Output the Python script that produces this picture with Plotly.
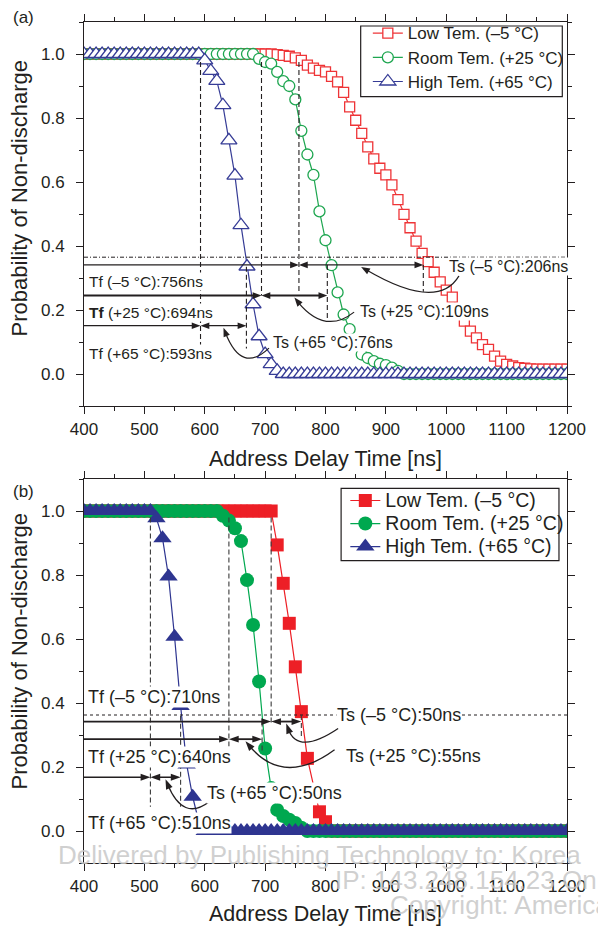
import math
import plotly.graph_objects as go

FONT = "Liberation Sans, Arial, Helvetica, sans-serif"
INK = "#231f20"

# ---------------- data: panel (a), open symbols ----------------
time_a = list(range(400, 1201, 10))

low_a = [
    1.0, 1.0, 1.0, 1.0, 1.0, 1.0, 1.0, 1.0, 1.0, 1.0,            # 400-490
    1.0, 1.0, 1.0, 1.0, 1.0, 1.0, 1.0, 1.0, 1.0, 1.0,            # 500-590
    1.0, 1.0, 1.0, 1.0, 1.0, 1.0, 1.0, 1.0, 1.0, 1.0,            # 600-690
    1.0, 1.0, 0.998, 0.996, 0.993, 0.988, 0.98, 0.965, 0.956, 0.949,   # 700-790
    0.944, 0.93, 0.913, 0.88, 0.835, 0.793, 0.752, 0.71, 0.672, 0.643,  # 800-890
    0.622, 0.591, 0.545, 0.499, 0.457, 0.415, 0.377, 0.351, 0.318, 0.288,  # 900-990
    0.262, 0.24, 0.2, 0.165, 0.134, 0.113, 0.092, 0.077, 0.056, 0.04,   # 1000-1090
    0.03, 0.025, 0.02, 0.018, 0.016, 0.015, 0.015, 0.015, 0.015, 0.015,  # 1100-1190
    0.015,                                                        # 1200
]
room_a = [
    1.0, 1.0, 1.0, 1.0, 1.0, 1.0, 1.0, 1.0, 1.0, 1.0,
    1.0, 1.0, 1.0, 1.0, 1.0, 1.0, 1.0, 1.0, 1.0, 1.0,
    1.0, 1.0, 1.0, 1.0, 1.0, 1.0, 1.0, 1.0, 1.0, 0.985,
    0.975, 0.97, 0.944, 0.915, 0.9, 0.858, 0.76, 0.686, 0.622, 0.508,
    0.418, 0.34, 0.255, 0.186, 0.14, 0.095, 0.061, 0.05, 0.04, 0.032,
    0.028, 0.02, 0.01, 0.0, 0.0, 0.0, 0.0, 0.0, 0.0, 0.0,
    0.0, 0.0, 0.0, 0.0, 0.0, 0.0, 0.0, 0.0, 0.0, 0.0,
    0.0, 0.0, 0.0, 0.0, 0.0, 0.0, 0.0, 0.0, 0.0, 0.0,
    0.0,
]
high_a = [
    1.0, 1.0, 1.0, 1.0, 1.0, 1.0, 1.0, 1.0, 1.0, 1.0,
    1.0, 1.0, 1.0, 1.0, 1.0, 1.0, 1.0, 1.0, 1.0, 1.0,
    0.98, 0.947, 0.916, 0.84, 0.73, 0.62, 0.465, 0.336, 0.218, 0.118,
    0.062, 0.031, 0.01, 0.0, 0.0, 0.0, 0.0, 0.0, 0.0, 0.0,
    0.0, 0.0, 0.0, 0.0, 0.0, 0.0, 0.0, 0.0, 0.0, 0.0,
    0.0, 0.0, 0.0, 0.0, 0.0, 0.0, 0.0, 0.0, 0.0, 0.0,
    0.0, 0.0, 0.0, 0.0, 0.0, 0.0, 0.0, 0.0, 0.0, 0.0,
    0.0, 0.0, 0.0, 0.0, 0.0, 0.0, 0.0, 0.0, 0.0, 0.0,
    0.0,
]

# ---------------- data: panel (b), filled symbols ----------------
time_b = list(range(400, 1201, 10))
time_low_b = list(range(400, 771, 10)) + list(range(790, 1201, 10))

low_b = [
    1.0, 1.0, 1.0, 1.0, 1.0, 1.0, 1.0, 1.0, 1.0, 1.0,
    1.0, 1.0, 1.0, 1.0, 1.0, 1.0, 1.0, 1.0, 1.0, 1.0,
    1.0, 1.0, 1.0, 1.0, 1.0, 1.0, 1.0, 1.0, 1.0, 1.0,
    1.0, 1.0, 0.894, 0.774, 0.649, 0.513, 0.373, 0.227,          # 700-770
    0.06, 0.029,                                                  # 790-800
    0.0, 0.0, 0.0, 0.0, 0.0, 0.0, 0.0, 0.0, 0.0, 0.0,
    0.0, 0.0, 0.0, 0.0, 0.0, 0.0, 0.0, 0.0, 0.0, 0.0,
    0.0, 0.0, 0.0, 0.0, 0.0, 0.0, 0.0, 0.0, 0.0, 0.0,
    0.0, 0.0, 0.0, 0.0, 0.0, 0.0, 0.0, 0.0, 0.0, 0.0,
]
room_b = [
    1.0, 1.0, 1.0, 1.0, 1.0, 1.0, 1.0, 1.0, 1.0, 1.0,
    1.0, 1.0, 1.0, 1.0, 1.0, 1.0, 1.0, 1.0, 1.0, 1.0,
    1.0, 1.0, 1.0, 0.985, 0.97, 0.946, 0.906, 0.784, 0.644, 0.467,
    0.258, 0.134, 0.066, 0.047, 0.035, 0.025, 0.01, 0.0, 0.0, 0.0,
    0.0, 0.0, 0.0, 0.0, 0.0, 0.0, 0.0, 0.0, 0.0, 0.0,
    0.0, 0.0, 0.0, 0.0, 0.0, 0.0, 0.0, 0.0, 0.0, 0.0,
    0.0, 0.0, 0.0, 0.0, 0.0, 0.0, 0.0, 0.0, 0.0, 0.0,
    0.0, 0.0, 0.0, 0.0, 0.0, 0.0, 0.0, 0.0, 0.0, 0.0,
    0.0,
]
high_b = [
    1.0, 1.0, 1.0, 1.0, 1.0, 1.0, 1.0, 1.0, 1.0, 1.0,
    1.0, 1.0, 0.977, 0.915, 0.795, 0.607, 0.391, 0.208, 0.107, 0.03,
    0.0, 0.0, 0.0, 0.0, 0.0, 0.0, 0.0, 0.0, 0.0, 0.0,
    0.0, 0.0, 0.0, 0.0, 0.0, 0.0, 0.0, 0.0, 0.0, 0.0,
    0.0, 0.0, 0.0, 0.0, 0.0, 0.0, 0.0, 0.0, 0.0, 0.0,
    0.0, 0.0, 0.0, 0.0, 0.0, 0.0, 0.0, 0.0, 0.0, 0.0,
    0.0, 0.0, 0.0, 0.0, 0.0, 0.0, 0.0, 0.0, 0.0, 0.0,
    0.0, 0.0, 0.0, 0.0, 0.0, 0.0, 0.0, 0.0, 0.0, 0.0,
    0.0,
]

series_names = ["Low Tem. (–5 °C)", "Room Tem. (+25 °C)", "High Tem. (+65 °C)"]
temp_tags = ["–5", "+25", "+65"]

# formation (Tf) and statistical (Ts) delay times, ns
tf_a = [756, 694, 593]
ts_a = [206, 109, 76]
tf_b = [710, 640, 510]
ts_b = [50, 55, 50]

# heights of the horizontal guide arrows and reference line
arrow_y_a = [0.341, 0.245, 0.151]
ref_y_a = 0.365
arrow_y_b = [0.342, 0.287, 0.168]
ref_y_b = 0.3625

# ---------------- geometry ----------------
W, H = 598, 930
ML, MR, MT, MB = 84, 20.5, 22, 67
PLOT_W = W - ML - MR
PLOT_H = H - MT - MB
PANEL_H = 384
X_RANGE = [400, 1200]
Y_RANGE = [-0.1, 1.1]
PX_X = PLOT_W / (X_RANGE[1] - X_RANGE[0])
PX_Y = PANEL_H / (Y_RANGE[1] - Y_RANGE[0])

RED_A, GREEN_A, BLUE_A = "#ee3437", "#1ea650", "#363c96"
RED_B, GREEN_B, BLUE_B = "#ed1f26", "#00a84f", "#2e3590"

shapes = []
annotations = []


def px_x(px):
    return (px - ML) / PLOT_W


def px_y(py):
    return (H - MB - py) / PLOT_H


def shift(x, y, dx, dy):
    """Move a data point by a pixel offset (dy positive = downward)."""
    return x + dx / PX_X, y - dy / PX_Y


def seg(ref, x0, y0, x1, y1, width=1.2, dash="solid", color=INK):
    shapes.append(dict(type="line", xref=ref[0], yref=ref[1], x0=x0, y0=y0, x1=x1, y1=y1,
                       line=dict(color=color, width=width, dash=dash), layer="above"))


def head(ref, xt, yt, ux, uy, L=9.0, hw=3.4):
    n = math.hypot(ux, uy)
    ux, uy = ux / n, uy / n
    p1 = shift(xt, yt, -ux * L - uy * hw, -uy * L + ux * hw)
    p2 = shift(xt, yt, -ux * L + uy * hw, -uy * L - ux * hw)
    path = f"M{xt:.4f},{yt:.5f} L{p1[0]:.4f},{p1[1]:.5f} L{p2[0]:.4f},{p2[1]:.5f} Z"
    shapes.append(dict(type="path", xref=ref[0], yref=ref[1], path=path,
                       fillcolor=INK, line=dict(width=0), layer="above"))


def tf_ts_arrows(ref, tf, ts, y, width, L, hw):
    # line from the left axis up to Tf, then the double-headed Ts span
    seg(ref, X_RANGE[0], y, tf - 0.6 * L / PX_X, y, width)
    head(ref, tf, y, 1, 0, L, hw)
    seg(ref, tf + 0.6 * L / PX_X, y, tf + ts - 0.6 * L / PX_X, y, width)
    head(ref, tf, y, -1, 0, L, hw)
    head(ref, tf + ts, y, 1, 0, L, hw)


def curved_pointer(ref, xt, yt, p0, c, L=9.0, hw=3.4, width=1.2):
    # quadratic curve from near a label to an arrow tip (offsets in pixels from the tip)
    ux, uy = -c[0], -c[1]
    n = math.hypot(ux, uy)
    ux, uy = ux / n, uy / n
    sx, sy = shift(xt, yt, -ux * 0.6 * L, -uy * 0.6 * L)
    P0 = shift(xt, yt, *p0)
    C = shift(xt, yt, *c)
    path = f"M{P0[0]:.4f},{P0[1]:.5f} Q{C[0]:.4f},{C[1]:.5f} {sx:.4f},{sy:.5f}"
    shapes.append(dict(type="path", xref=ref[0], yref=ref[1], path=path,
                       line=dict(color=INK, width=width), layer="above"))
    head(ref, xt, yt, ux, uy, L, hw)


def label(ref, x, y, text, size):
    annotations.append(dict(xref=ref[0], yref=ref[1], x=x, y=y, text=text, showarrow=False,
                            xanchor="left", yanchor="middle", bgcolor="white", borderpad=0,
                            font=dict(family=FONT, size=size, color=INK)))


# ---------------- panel (a) guides ----------------
RA = ("x", "y")
seg(RA, X_RANGE[0], ref_y_a, X_RANGE[1], ref_y_a, 1.0, "4px,2px,1px,2px")
tf_bottom_a = [0.257, 0.245, 0.081]
ts_span_a = [(0.341, 0.257), (0.341, 0.169), (0.335, 0.08)]
for i in range(3):
    seg(RA, tf_a[i], 0.975, tf_a[i], tf_bottom_a[i], 1.1, "5px,3px")
    seg(RA, tf_a[i] + ts_a[i], ts_span_a[i][0], tf_a[i] + ts_a[i], ts_span_a[i][1], 1.1, "5px,3px")
widths_a = [1.2, 2.0, 1.3]
for i in range(3):
    tf_ts_arrows(RA, tf_a[i], ts_a[i], arrow_y_a[i], widths_a[i], 9, 3.3)

curve_a = [((100, 9), (78, 45)), ((61, 14.5), (31, 37.5)), ((46.5, 20.5), (18.5, 46.5))]
for i in range(3):
    xt, yt = shift(tf_a[i] + ts_a[i] / 2, arrow_y_a[i], 0, 2)
    curved_pointer(RA, xt, yt, *curve_a[i])

tf_label_y_a = [0.2885, 0.1916, 0.0647]
tf_text_a = ["Tf (–5 °C):756ns", "<b>Tf</b> (+25 °C):694ns", "Tf (+65 °C):593ns"]
for i in range(3):
    label(RA, 406.5, tf_label_y_a[i], tf_text_a[i], 15.5)
ts_label_pos_a = [(1003, 0.335), (855, 0.1947), (711, 0.0978)]
for i in range(3):
    label(RA, ts_label_pos_a[i][0], ts_label_pos_a[i][1],
          f"Ts ({temp_tags[i]} °C):{ts_a[i]}ns", 16)

# ---------------- panel (b) guides ----------------
RB = ("x2", "y2")
seg(RB, X_RANGE[0], ref_y_b, X_RANGE[1], ref_y_b, 1.0, "3px,3px")
tf_bottom_b = [0.33, 0.259, 0.076]
ts_span_b = [(0.3625, 0.295), (0.342, 0.245), (0.36, 0.076)]
for i in range(3):
    seg(RB, tf_b[i], 0.98, tf_b[i], tf_bottom_b[i], 1.1, "5px,3px", "#3a3a3a")
    seg(RB, tf_b[i] + ts_b[i], ts_span_b[i][0], tf_b[i] + ts_b[i], ts_span_b[i][1], 1.1, "5px,3px", "#3a3a3a")
widths_b = [1.8, 1.8, 1.5]
for i in range(3):
    tf_ts_arrows(RB, tf_b[i], ts_b[i], arrow_y_b[i], widths_b[i], 10, 3.4)

curve_b = [((53, 5), (12, 32)), ((91, 8.5), (39, 46)), ((44.7, 22.5), (18, 42.5))]
for i in range(3):
    xt, yt = shift(tf_b[i] + ts_b[i] / 2, arrow_y_b[i], 0, 2)
    curved_pointer(RB, xt, yt, *curve_b[i], L=10, hw=3.6, width=1.3)

tf_label_y_b = [0.4178, 0.2322, 0.0241]
for i in range(3):
    label(RB, 405, tf_label_y_b[i], f"Tf ({temp_tags[i]} °C):{tf_b[i]}ns", 18)
ts_label_pos_b = [(818, 0.3625), (831.5, 0.2344), (602, 0.1178)]
for i in range(3):
    label(RB, ts_label_pos_b[i][0], ts_label_pos_b[i][1],
          f"Ts ({temp_tags[i]} °C):{ts_b[i]}ns", 18)

# ---------------- legend frames (drawn as shapes so the box matches exactly) ----------------
for (l, t, r, b) in [(366.7, 26, 572.7, 96.7), (346.7, 488.3, 569.3, 560.7)]:
    shapes.append(dict(type="rect", xref="paper", yref="paper",
                       x0=px_x(l), x1=px_x(r), y0=px_y(b), y1=px_y(t),
                       fillcolor="white", line=dict(color=INK, width=1.2), layer="above"))

# ---------------- traces ----------------
fig = go.Figure()

def legend_name(name, size):
    return f'<span style="font-size:{size}px">{name}</span>'

open_style = [("square", 10, RED_A), ("circle", 11, GREEN_A), ("triangle-up", 14, BLUE_A)]
for name, ys, (sym, size, col) in zip(series_names, [low_a, room_a, high_a], open_style):
    fig.add_trace(go.Scatter(
        x=time_a, y=ys, name=legend_name(name, 17), mode="lines+markers",
        xaxis="x", yaxis="y", legend="legend",
        line=dict(color=col, width=1.2),
        marker=dict(symbol=sym, size=size, color="white", line=dict(color=col, width=1.3)),
    ))

filled_style = [("square", 13, RED_B), ("circle", 14, GREEN_B), ("triangle-up", 16, BLUE_B)]
for name, xs, ys, (sym, size, col) in zip(series_names, [time_low_b, time_b, time_b],
                                          [low_b, room_b, high_b], filled_style):
    fig.add_trace(go.Scatter(
        x=xs, y=ys, name=legend_name(name, 19.5), mode="lines+markers",
        xaxis="x2", yaxis="y2", legend="legend2",
        line=dict(color=col, width=1.2),
        marker=dict(symbol=sym, size=size, color=col, line=dict(width=0)),
    ))

# ---------------- axes ----------------
dom_a = [1 - PANEL_H / PLOT_H, 1]
dom_b = [0, PANEL_H / PLOT_H]

tickfont = dict(family=FONT, size=17, color=INK)
common = dict(showline=True, linecolor=INK, linewidth=1, mirror="allticks", ticks="outside",
              ticklen=7, tickwidth=1, tickcolor=INK, showgrid=False, zeroline=False,
              tickfont=tickfont)
xcommon = dict(common, range=X_RANGE, tick0=400, dtick=100, ticklabelstandoff=1,
               minor=dict(dtick=50, ticks="outside", ticklen=4, tickwidth=1, tickcolor=INK, showgrid=False))
ycommon = dict(common, range=Y_RANGE, tick0=0, dtick=0.2, tickformat=".1f", ticklabelstandoff=8,
               minor=dict(dtick=0.1, ticks="outside", ticklen=4, tickwidth=1, tickcolor=INK, showgrid=False))

legend_common = dict(xanchor="left", yanchor="top", bgcolor="rgba(0,0,0,0)",
                     borderwidth=0, tracegroupgap=0, itemsizing="trace")

# axis titles, panel tags and the delivery stamp as paper annotations
def paper_text(x_px, y_px, text, size, color=INK, angle=0, xanchor="center"):
    annotations.append(dict(xref="paper", yref="paper", x=px_x(x_px), y=px_y(y_px),
                            text=text, showarrow=False, textangle=angle,
                            xanchor=xanchor, yanchor="middle",
                            font=dict(family=FONT, size=size, color=color)))

paper_text(22, 17, "(a)", 17)
paper_text(22, 491, "(b)", 17)
paper_text(18, 198, "Probability of Non-discharge", 22, angle=-90)
paper_text(18, 651, "Probability of Non-discharge", 22, angle=-90)
paper_text(331, 459, "Address Delay Time [ns]", 21.5)
paper_text(331, 914, "Address Delay Time [ns]", 21.5)

STAMP = "rgba(200,200,200,0.85)"
paper_text(55, 855, "Delivered by Publishing Technology to: Korea", 26, STAMP, xanchor="left")
paper_text(338, 880, "IP: 143.248.154.23 On", 26, STAMP, xanchor="left")
paper_text(395, 905, "Copyright: American", 26, STAMP, xanchor="left")

fig.update_layout(
    width=W, height=H,
    margin=dict(l=ML, r=MR, t=MT, b=MB, pad=0),
    paper_bgcolor="white", plot_bgcolor="white",
    font=dict(family=FONT, color=INK),
    xaxis=dict(xcommon, domain=[0, 1], anchor="y"),
    yaxis=dict(ycommon, domain=dom_a, anchor="x"),
    xaxis2=dict(xcommon, domain=[0, 1], anchor="y2"),
    yaxis2=dict(ycommon, domain=dom_b, anchor="x2"),
    legend=dict(legend_common, x=px_x(374), y=px_y(16),
                font=dict(family=FONT, size=16.3, color=INK)),
    legend2=dict(legend_common, x=px_x(351), y=px_y(484),
                 font=dict(family=FONT, size=15.4, color=INK)),
    shapes=shapes,
    annotations=annotations,
    showlegend=True,
)

fig.write_html("out.html")
